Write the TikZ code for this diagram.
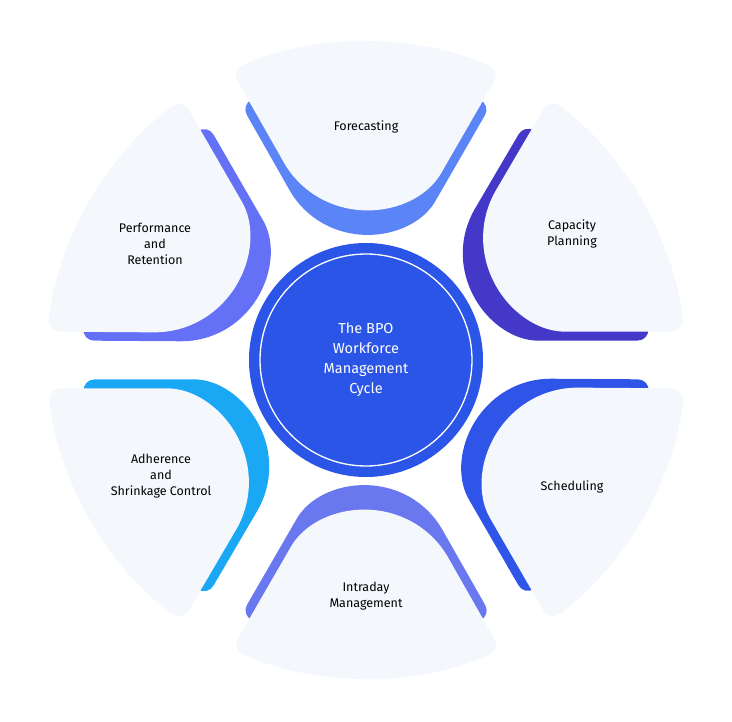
\documentclass[tikz,border=0pt]{standalone}
\usepackage{fontspec}
\setmainfont{Fira Sans}
\definecolor{cA}{HTML}{5B84F6}
\definecolor{cB}{HTML}{4338C8}
\definecolor{cC}{HTML}{2F55E8}
\definecolor{cD}{HTML}{6A78F0}
\definecolor{cE}{HTML}{1AA8F5}
\definecolor{cF}{HTML}{6470F5}
\definecolor{cCenter}{HTML}{2B55E6}
\definecolor{cLight}{RGB}{244,247,252}
\newcommand\mypetalpath{(0,319) arc[start angle=90, end angle=65.1, radius=319] -- (81,197) [sharp corners] arc[start angle=330, end angle=210, radius=94] [rounded corners=12] -- (-134.5,289.7) arc[start angle=114.9, end angle=90, radius=319]}
\newcommand\mypetal[2]{%
  \begin{scope}[shift={(366,-360)},rotate=#1]
    \begin{scope}[yshift=-14,scale=0.93]
      \fill[#2,rounded corners=12] \mypetalpath;
    \end{scope}
    \fill[cLight,rounded corners=12] \mypetalpath;
  \end{scope}}
\begin{document}
\begin{tikzpicture}[x=1pt,y=1pt,
  lbl/.style={align=center,font=\fontsize{12.5}{16}\selectfont,text=black}]
\useasboundingbox (0,0) rectangle (732,-722);
\coordinate (O) at (366,-360);
\mypetal{0}{cA}
\mypetal{-60}{cB}
\mypetal{-120}{cC}
\mypetal{180}{cD}
\mypetal{120}{cE}
\mypetal{60}{cF}
\fill[cCenter] (O) circle[radius=117];
\draw[white,line width=1.3pt] (O) circle[radius=106];
\node[lbl] (f) at (366,-127) {Forecasting};
\node[lbl] (c) at (572,-234) {Capacity\\Planning};
\node[lbl] (s) at (572,-487) {Scheduling};
\node[lbl] (i) at (366,-596) {Intraday\\Management};
\node[lbl] (a) at (161,-476) {Adherence\\and\\Shrinkage Control};
\node[lbl] (p) at (155,-244) {Performance\\and\\Retention};
\node[align=center,text=white,font=\fontsize{14.5}{20}\selectfont] (m) at (O) {The BPO\\Workforce\\Management\\Cycle};
\end{tikzpicture}
\end{document}
